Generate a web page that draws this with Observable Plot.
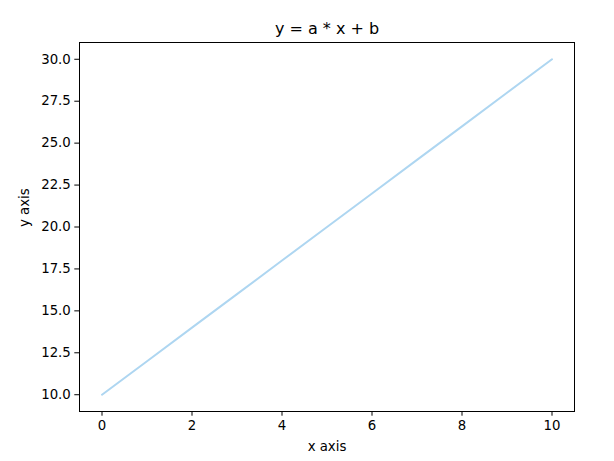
<!DOCTYPE html>
<html>
<head>
<meta charset="utf-8">
<script src="https://cdn.jsdelivr.net/npm/d3@7"></script>
<script src="https://cdn.jsdelivr.net/npm/@observablehq/plot@0.6"></script>
<style>
  html, body { margin: 0; padding: 0; background: #fff; }
  svg { font-family: "DejaVu Sans", sans-serif; }
</style>
</head>
<body>
<div id="chart"></div>
<script>
const xValues = [0, 1, 2, 3, 4, 5, 6, 7, 8, 9, 10];
const yValues = [10, 12, 14, 16, 18, 20, 22, 24, 26, 28, 30];
const xTicks = [0, 2, 4, 6, 8, 10];
const yTicks = [10, 12.5, 15, 17.5, 20, 22.5, 25, 27.5, 30];
const title = "y = a * x + b";
const xLabel = "x axis";
const yLabel = "y axis";

const data = xValues.map((x, i) => ({x, y: yValues[i]}));

const chart = Plot.plot({
  width: 614,
  height: 461,
  marginLeft: 79,
  marginRight: 40,
  marginTop: 42,
  marginBottom: 50,
  style: {fontFamily: "DejaVu Sans, sans-serif", fontSize: "13.3px", color: "#000", background: "#fff"},
  x: {domain: [-0.5, 10.5]},
  y: {domain: [9, 31]},
  marks: [
    Plot.line(data, {x: "x", y: "y", stroke: "#aed6f1", strokeWidth: 2}),
    Plot.frame({stroke: "#000", strokeWidth: 1}),
    Plot.axisX({ticks: xTicks, tickSize: 4.7, tickPadding: 4, label: null, fontSize: 13.3, tickFormat: d3.format("d"), strokeWidth: 1}),
    Plot.axisY({ticks: yTicks, tickSize: 4.7, tickPadding: 4, label: null, fontSize: 13.3, tickFormat: d3.format(".1f"), strokeWidth: 1}),
    Plot.text([title], {frameAnchor: "top", lineAnchor: "middle", dy: -14, text: d => d, fontSize: 16, fill: "#000"}),
    Plot.text([xLabel], {frameAnchor: "bottom", lineAnchor: "middle", dy: 35, text: d => d, fontSize: 13.3, fill: "#000"}),
    Plot.text([yLabel], {frameAnchor: "left", lineAnchor: "middle", dx: -55, rotate: -90, text: d => d, fontSize: 13.3, fill: "#000"})
  ]
});
document.getElementById("chart").appendChild(chart);
</script>
</body>
</html>
